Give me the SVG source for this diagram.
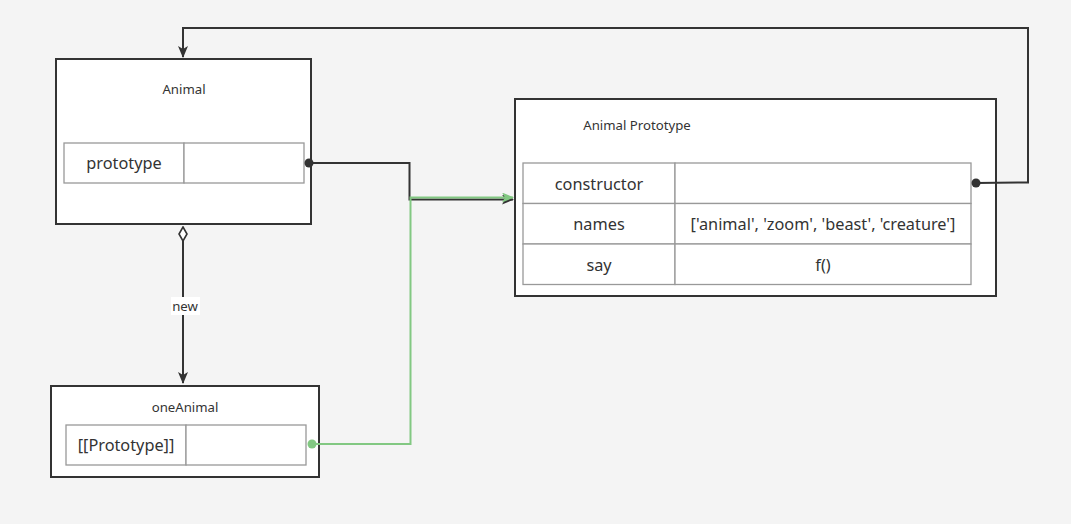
<svg xmlns="http://www.w3.org/2000/svg" width="1071" height="524" viewBox="0 0 1071 524">
<style>
.box{fill:#fff;stroke:#333;stroke-width:2}
.cell{fill:#fff;stroke:#999;stroke-width:1.3}
.t{font-family:"Noto Sans","Open Sans",sans-serif;font-size:13.2px;fill:#333;text-anchor:middle;dominant-baseline:central}
.c{font-family:"Noto Sans","Open Sans",sans-serif;font-size:16.3px;fill:#333;text-anchor:middle;dominant-baseline:central}
.k{fill:none;stroke:#333;stroke-width:2}
.g{fill:none;stroke:#82c882;stroke-width:2}
</style>
<defs>
<marker id="ak" viewBox="0 0 12 10" refX="11" refY="5" markerWidth="12" markerHeight="10" markerUnits="userSpaceOnUse" orient="auto"><path d="M0,0 L12,5 L0,10 L3,5 Z" fill="#333"/></marker>
<marker id="ag" viewBox="0 0 12 10" refX="11" refY="5" markerWidth="12" markerHeight="10" markerUnits="userSpaceOnUse" orient="auto"><path d="M0,0 L12,5 L0,10 L3,5 Z" fill="#82c882"/></marker>
<marker id="dia" viewBox="0 0 16 10" refX="1" refY="5" markerWidth="16" markerHeight="10" markerUnits="userSpaceOnUse" orient="auto"><path d="M1,5 L8,1 L15,5 L8,9 Z" fill="#fff" stroke="#333" stroke-width="1.6"/></marker>
</defs>
<rect width="1071" height="524" fill="#f4f4f4"/>
<g id="animal">
<rect class="box" x="56" y="59" width="255" height="165"/>
<text class="t" x="184" y="89">Animal</text>
<rect class="cell" x="64" y="143" width="120" height="40"/>
<rect class="cell" x="184" y="143" width="120" height="40"/>
<text class="c" x="124" y="163">prototype</text>
</g>
<g id="animal-prototype">
<rect class="box" x="515" y="99" width="481" height="197"/>
<text class="t" x="637" y="125">Animal Prototype</text>
<rect class="cell" x="523" y="163" width="152" height="40.5"/>
<rect class="cell" x="675" y="163" width="296" height="40.5"/>
<rect class="cell" x="523" y="203.5" width="152" height="40.5"/>
<rect class="cell" x="675" y="203.5" width="296" height="40.5"/>
<rect class="cell" x="523" y="244" width="152" height="40.5"/>
<rect class="cell" x="675" y="244" width="296" height="40.5"/>
<text class="c" x="599" y="184">constructor</text>
<text class="c" x="599" y="224">names</text>
<text class="c" x="599" y="265">say</text>
<text class="c" x="823" y="224">['animal', 'zoom', 'beast', 'creature']</text>
<text class="c" x="823" y="265">f()</text>
</g>
<g id="one-animal">
<rect class="box" x="51" y="386" width="268" height="91"/>
<text class="t" x="185" y="407">oneAnimal</text>
<rect class="cell" x="66" y="425" width="120" height="40"/>
<rect class="cell" x="186" y="425" width="120" height="40"/>
<text class="c" x="126" y="445">[[Prototype]]</text>
</g>
<g id="connectors">
<path class="k" d="M309,163 H409.5 V199.5 H513" marker-end="url(#ak)"/>
<path class="g" d="M312,444 H410.5 V197.5 H513" marker-end="url(#ag)"/>
<circle cx="309" cy="163" r="4.5" fill="#333"/>
<circle cx="312" cy="444" r="4.5" fill="#82c882"/>
<path class="k" d="M976,183 L1028,182.5 V28 H183 V57" marker-end="url(#ak)"/>
<circle cx="976" cy="183" r="4.5" fill="#333"/>
<path class="k" d="M183,227 V383" marker-start="url(#dia)" marker-end="url(#ak)"/>
<rect x="171" y="297" width="29" height="18" fill="#fff"/>
<text class="t" x="185" y="306">new</text>
</g>
</svg>
